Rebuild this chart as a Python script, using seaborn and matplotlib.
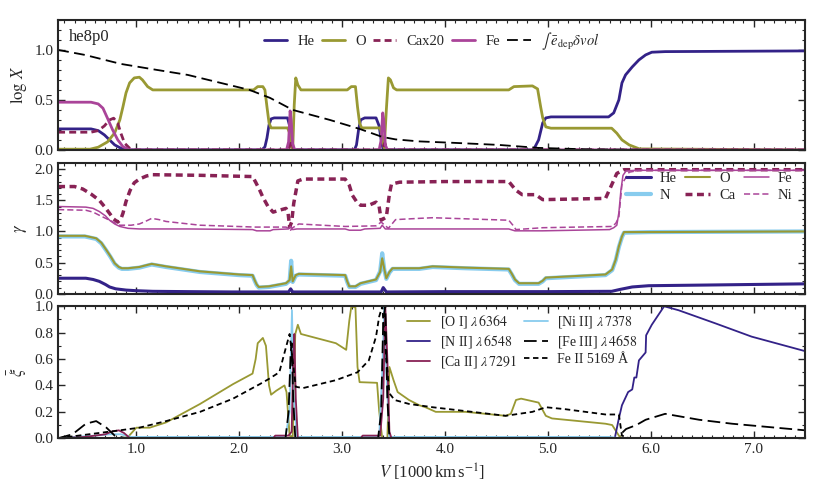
import matplotlib
matplotlib.use('Agg')
import matplotlib.pyplot as plt
from matplotlib.ticker import MultipleLocator, FormatStrFormatter
import seaborn as sns

# colours (Tol muted)
c_he = '#332288'
c_o = '#999933'
c_ca = '#882255'
c_fe = '#AA4499'
c_n = '#88CCEE'

# ---------------- top panel: log X ----------------
he_top_x = [0.24, 0.56, 0.63, 0.69, 0.74, 0.79, 0.85, 0.90, 2.22, 2.25, 2.27, 2.29, 2.31, 2.34, 2.47, 2.49, 2.50, 2.52,
            3.12, 3.14, 3.16, 3.18, 3.22, 3.33, 3.36, 3.38, 3.40, 4.86, 4.91, 4.95, 4.98, 5.03, 5.59, 5.64, 5.69, 5.72,
            5.755, 5.82, 5.885, 5.95, 6.01, 6.14, 7.50]
he_top_y = [0.21, 0.21, 0.193, 0.15, 0.10, 0.05, 0.017, 0.0, 0.0, 0.03, 0.12, 0.25, 0.31, 0.32, 0.32, 0.24, 0.10, 0.0,
            0.0, 0.05, 0.20, 0.30, 0.32, 0.32, 0.24, 0.10, 0.0, 0.0, 0.10, 0.27, 0.32, 0.33, 0.33, 0.37, 0.50, 0.67,
            0.75, 0.83, 0.90, 0.95, 0.977, 0.983, 0.99]

o_top_x = [0.24, 0.55, 0.63, 0.72, 0.79, 0.84, 0.87, 0.90, 0.935, 0.98, 1.03, 1.06, 1.11, 1.16, 2.14, 2.18, 2.23, 2.25,
           2.27, 2.29, 2.31, 2.47, 2.49, 2.51, 2.52, 2.535, 2.55, 2.57, 2.60, 3.05, 3.09, 3.13, 3.15, 3.17, 3.19,
           3.37, 3.39, 3.41, 3.43, 3.45, 3.47, 3.50, 3.53, 4.62, 4.67, 4.85, 4.90, 4.93, 4.95, 4.98, 5.03, 5.62,
           5.67, 5.72, 5.79, 5.89, 7.50]
o_top_y = [0.007, 0.007, 0.027, 0.08, 0.17, 0.30, 0.43, 0.57, 0.67, 0.72, 0.727, 0.70, 0.633, 0.60, 0.60, 0.633, 0.633,
           0.60, 0.43, 0.27, 0.22, 0.22, 0.17, 0.03, 0.0, 0.45, 0.72, 0.65, 0.60, 0.60, 0.633, 0.633, 0.43, 0.27, 0.22,
           0.22, 0.13, 0.02, 0.40, 0.72, 0.70, 0.62, 0.60, 0.60, 0.633, 0.64, 0.61, 0.43, 0.32, 0.23, 0.217, 0.217,
           0.167, 0.10, 0.05, 0.01, 0.0]

cax20_x = [0.24, 0.56, 0.63, 0.69, 0.74, 0.78, 0.82, 0.85, 0.886, 0.935, 0.98, 2.48, 2.505, 2.53, 3.39, 3.415, 3.44, 7.50]
cax20_y = [0.177, 0.177, 0.193, 0.24, 0.30, 0.317, 0.267, 0.167, 0.067, 0.017, 0.0, 0.0, 0.10, 0.0, 0.0, 0.07, 0.0, 0.0]

fe_top_x = [0.24, 0.56, 0.63, 0.676, 0.72, 0.77, 0.82, 0.87, 0.935, 2.46, 2.48, 2.495, 2.505, 2.52, 2.54,
            3.36, 3.38, 3.395, 3.405, 3.42, 3.44, 7.50]
fe_top_y = [0.477, 0.477, 0.46, 0.417, 0.317, 0.20, 0.10, 0.033, 0.0, 0.0, 0.08, 0.39, 0.30, 0.06, 0.0,
            0.0, 0.10, 0.37, 0.30, 0.05, 0.0, 0.0]

edep_x = [0.24, 0.50, 0.85, 1.20, 1.50, 1.90, 2.10, 2.30, 2.52, 2.70, 2.88, 3.17, 3.39, 3.52, 3.75, 4.10, 4.52, 4.91,
          5.40, 6.00, 7.50]
edep_y = [1.00, 0.95, 0.86, 0.80, 0.75, 0.65, 0.60, 0.52, 0.40, 0.35, 0.30, 0.21, 0.13, 0.105, 0.085, 0.07, 0.05, 0.02,
          0.005, 0.0, 0.0]

# ---------------- middle panel: gamma ----------------
he_mid_x = [0.24, 0.51, 0.58, 0.64, 0.70, 0.74, 0.80, 0.90, 1.00, 1.16, 1.50, 1.93, 2.48, 2.50, 2.52, 3.38, 3.40,
            3.43, 4.00, 5.00, 5.62, 5.70, 5.82, 5.98, 6.50, 7.00, 7.50]
he_mid_y = [0.25, 0.25, 0.23, 0.20, 0.15, 0.11, 0.08, 0.06, 0.05, 0.04, 0.035, 0.03, 0.03, 0.08, 0.03, 0.03, 0.10,
            0.03, 0.035, 0.035, 0.04, 0.07, 0.11, 0.13, 0.14, 0.15, 0.16]

o_mid_x = [0.24, 0.50, 0.61, 0.66, 0.71, 0.75, 0.79, 0.83, 0.86, 0.92, 1.03, 1.10, 1.15, 1.22, 1.29, 1.62, 2.00, 2.13,
           2.15, 2.17, 2.19, 2.29, 2.455, 2.49, 2.505, 2.52, 2.55, 2.58, 3.03, 3.05, 3.07, 3.13, 3.18, 3.33, 3.37, 3.39,
           3.41, 3.43, 3.46, 3.49, 3.75, 3.88, 4.20, 4.62, 4.65, 4.68, 4.72, 4.91, 4.95, 4.98, 5.56, 5.625, 5.66, 5.69,
           5.72, 5.74, 6.00, 7.50]
o_mid_y = [0.93, 0.93, 0.89, 0.82, 0.70, 0.60, 0.49, 0.43, 0.41, 0.41, 0.43, 0.46, 0.48, 0.46, 0.44, 0.36, 0.31, 0.30,
           0.22, 0.15, 0.11, 0.12, 0.17, 0.22, 0.44, 0.20, 0.30, 0.32, 0.30, 0.20, 0.12, 0.12, 0.17, 0.23, 0.35, 0.57,
           0.40, 0.25, 0.35, 0.41, 0.41, 0.44, 0.42, 0.40, 0.32, 0.23, 0.17, 0.17, 0.21, 0.26, 0.31, 0.39, 0.55, 0.76,
           0.92, 0.99, 0.99, 1.00]
n_mid_y = [0.92, 0.92, 0.88, 0.81, 0.69, 0.59, 0.48, 0.42, 0.40, 0.40, 0.42, 0.45, 0.47, 0.45, 0.43, 0.35, 0.30, 0.29,
           0.21, 0.14, 0.10, 0.11, 0.16, 0.21, 0.53, 0.19, 0.29, 0.31, 0.29, 0.19, 0.11, 0.11, 0.16, 0.22, 0.36, 0.65,
           0.39, 0.24, 0.34, 0.40, 0.40, 0.43, 0.41, 0.39, 0.31, 0.22, 0.16, 0.16, 0.20, 0.25, 0.30, 0.38, 0.54, 0.75,
           0.91, 0.98, 0.99, 1.00]

ca_mid_x = [0.24, 0.40, 0.48, 0.56, 0.64, 0.69, 0.74, 0.78, 0.82, 0.85, 0.87, 0.90, 0.94, 0.98, 1.03, 1.10, 1.16, 1.62,
            2.13, 2.16, 2.20, 2.23, 2.28, 2.33, 2.39, 2.455, 2.475, 2.49, 2.51, 2.53, 2.57, 2.62, 3.03, 3.07, 3.10,
            3.14, 3.18, 3.26, 3.33, 3.36, 3.38, 3.43, 3.46, 3.48, 3.56, 4.00, 4.62, 4.66, 4.69, 4.75, 4.88, 4.95,
            5.56, 5.61, 5.67, 5.74, 7.50]
ca_mid_y = [1.72, 1.72, 1.68, 1.60, 1.50, 1.40, 1.29, 1.20, 1.15, 1.20, 1.29, 1.48, 1.66, 1.78, 1.84, 1.89, 1.91, 1.90,
            1.88, 1.79, 1.66, 1.55, 1.40, 1.31, 1.34, 1.37, 1.30, 1.07, 1.15, 1.45, 1.81, 1.84, 1.84, 1.74, 1.58,
            1.48, 1.42, 1.42, 1.47, 1.40, 1.18, 1.23, 1.60, 1.76, 1.79, 1.80, 1.80, 1.72, 1.66, 1.59, 1.59, 1.51,
            1.53, 1.71, 1.93, 1.99, 1.99]

fe_mid_x = [0.24, 0.51, 0.58, 0.64, 0.70, 0.74, 0.79, 0.84, 0.92, 1.03, 1.50, 2.13, 2.17, 2.30, 2.33, 2.48, 2.50, 2.52,
            2.56, 3.03, 3.07, 3.18, 3.22, 3.37, 3.39, 3.42, 3.46, 4.62, 4.68, 4.95, 5.60, 5.64, 5.67, 5.69, 5.71, 5.73,
            5.76, 5.85, 7.50]
fe_mid_y = [1.40, 1.39, 1.37, 1.32, 1.25, 1.18, 1.12, 1.08, 1.05, 1.04, 1.04, 1.03, 1.01, 1.01, 1.03, 1.04, 1.08, 1.03,
            1.04, 1.04, 1.02, 1.02, 1.04, 1.05, 1.10, 1.04, 1.04, 1.04, 1.01, 1.01, 1.03, 1.06, 1.10, 1.30, 1.66, 1.90,
            1.97, 1.98, 1.98]

ni_mid_x = [0.24, 0.51, 0.58, 0.64, 0.74, 0.84, 0.95, 1.03, 1.10, 1.15, 1.22, 1.29, 1.62, 2.16, 2.455, 2.49, 2.50, 2.52,
            2.58, 3.03, 3.33, 3.38, 3.45, 3.52, 3.75, 3.88, 4.62, 4.66, 4.69, 4.95, 5.625, 5.66, 5.69, 5.72, 5.79,
            5.885, 7.50]
ni_mid_y = [1.35, 1.34, 1.31, 1.26, 1.18, 1.10, 1.10, 1.12, 1.17, 1.21, 1.19, 1.16, 1.10, 1.07, 1.07, 1.04, 1.02, 1.06,
            1.12, 1.08, 1.09, 1.15, 1.05, 1.19, 1.21, 1.22, 1.18, 1.10, 1.03, 1.06, 1.08, 1.13, 1.23, 1.76, 1.95,
            1.98, 1.98]

# ---------------- bottom panel: xi ----------------
oi_x = [0.24, 0.85, 0.92, 1.00, 1.13, 1.29, 1.62, 1.94, 2.13, 2.16, 2.18, 2.23, 2.26, 2.29, 2.31, 2.36, 2.44, 2.46, 2.49,
        2.52, 2.545, 2.57, 2.60, 2.94, 3.04, 3.07, 3.09, 3.13, 3.15, 3.17, 3.34, 3.36, 3.39, 3.44, 3.46, 3.50, 3.54, 3.65,
        3.75, 3.81, 3.91, 4.20, 4.59, 4.64, 4.69, 4.74, 4.91, 4.98, 5.04, 5.56, 5.625, 5.69, 5.72, 7.50]
oi_y = [0.0, 0.0, 0.01, 0.08, 0.08, 0.12, 0.26, 0.41, 0.49, 0.60, 0.72, 0.76, 0.70, 0.40, 0.33, 0.36, 0.40, 0.35, 0.02,
        0.0, 0.79, 0.86, 0.79, 0.72, 0.67, 0.89, 1.0, 0.99, 0.54, 0.425, 0.42, 0.21, 0.0, 0.0, 0.54, 0.44, 0.35, 0.29,
        0.25, 0.235, 0.20, 0.20, 0.17, 0.185, 0.29, 0.30, 0.27, 0.17, 0.15, 0.11, 0.10, 0.02, 0.0, 0.0]

nii_x = [0.24, 5.65, 5.69, 5.72, 5.78, 5.82, 5.84, 5.86, 5.885, 5.95, 5.955, 6.01, 6.13, 6.27, 6.63, 6.98, 7.50]
nii_y = [0.0, 0.0, 0.15, 0.25, 0.35, 0.37, 0.46, 0.46, 0.59, 0.65, 0.78, 0.86, 1.0, 0.97, 0.87, 0.77, 0.66]

caii_x = [0.24, 0.50, 0.70, 0.76, 0.83, 0.88, 0.94, 2.33, 2.35, 2.48, 2.51, 2.525, 2.536, 2.55, 2.57, 3.18, 3.20, 3.37,
          3.40, 3.42, 3.44, 3.46, 3.48, 7.50]
caii_y = [0.0, 0.01, 0.03, 0.05, 0.06, 0.04, 0.0, 0.0, 0.02, 0.02, 0.05, 0.60, 0.79, 0.30, 0.0, 0.0, 0.02, 0.02,
          0.30, 1.0, 0.60, 0.05, 0.0, 0.0]

niii_x = [0.24, 0.40, 0.60, 0.75, 0.85, 0.95, 1.50, 2.45, 2.49, 2.513, 2.53, 2.56, 3.00, 3.36, 3.39, 3.41, 3.43, 3.46,
          4.50, 5.60, 5.70, 7.50]
niii_y = [0.0, 0.01, 0.02, 0.03, 0.03, 0.01, 0.01, 0.01, 0.20, 0.97, 0.30, 0.01, 0.01, 0.01, 0.50, 1.0, 0.50, 0.01,
          0.01, 0.01, 0.0, 0.0]

feiii_x = [0.24, 0.38, 0.51, 0.61, 0.71, 0.79, 0.90, 2.45, 2.48, 2.50, 2.51, 2.525, 2.545, 3.35, 3.38, 3.40, 3.42, 3.44,
           3.46, 5.69, 5.72, 5.76, 5.86, 5.95, 6.14, 6.47, 6.79, 7.50]
feiii_y = [0.0, 0.03, 0.11, 0.13, 0.08, 0.02, 0.0, 0.0, 0.20, 0.65, 0.72, 0.30, 0.0, 0.0, 0.20, 0.90, 1.0, 0.30,
           0.0, 0.0, 0.04, 0.07, 0.10, 0.14, 0.185, 0.14, 0.11, 0.06]

feii_x = [0.24, 0.64, 0.84, 1.03, 1.29, 1.62, 1.94, 2.20, 2.29, 2.39, 2.455, 2.49, 2.55, 2.62, 2.94, 3.15, 3.26, 3.33,
          3.36, 3.39, 3.43, 3.46, 3.51, 3.65, 3.88, 4.59, 4.85, 4.98, 5.17, 5.56, 5.69, 5.72, 5.79, 7.50]
feii_y = [0.0, 0.04, 0.06, 0.08, 0.13, 0.20, 0.30, 0.41, 0.45, 0.50, 0.69, 0.79, 0.39, 0.38, 0.44, 0.50, 0.59, 0.77,
          0.92, 1.0, 0.60, 0.34, 0.29, 0.26, 0.235, 0.17, 0.20, 0.235, 0.22, 0.18, 0.18, 0.02, 0.0, 0.0]

sns.set_style('ticks')
plt.rcParams['font.family'] = ['Liberation Serif', 'DejaVu Serif']
plt.rcParams['mathtext.fontset'] = 'stix'
plt.rcParams['xtick.direction'] = 'in'
plt.rcParams['ytick.direction'] = 'in'

fig = plt.figure(figsize=(8.3, 4.98), dpi=100)
ax1 = fig.add_axes([0.070, 0.699, 0.900, 0.261])
ax2 = fig.add_axes([0.070, 0.410, 0.900, 0.263])
ax3 = fig.add_axes([0.070, 0.120, 0.900, 0.265])


def line(ax, x, y, color, lw, ls='-', label=None):
    sns.lineplot(x=x, y=y, ax=ax, color=color, lw=lw, linestyle=ls, estimator=None, sort=False, legend=False)
    h = ax.lines[-1]
    h.set_label(label)
    return h


# top panel
h1 = line(ax1, he_top_x, he_top_y, c_he, 2.0, label='He')
h2 = line(ax1, o_top_x, o_top_y, c_o, 2.0, label='O')
h3 = line(ax1, cax20_x, cax20_y, c_ca, 2.0, (0, (2.5, 1.5)), label='Cax20')
h4 = line(ax1, fe_top_x, fe_top_y, c_fe, 2.0, label='Fe')
h5 = line(ax1, edep_x, edep_y, 'black', 1.3, (0, (6, 3)), label=r'$\int\;\bar{e}_{\rm dep}\delta vol$')
ax1.legend(handles=[h1, h2, h3, h4, h5], loc='upper center', ncol=5, frameon=False, fontsize=10.5,
           handlelength=1.6, columnspacing=0.5, handletextpad=0.7, bbox_to_anchor=(0.5, 1.02))
ax1.text(0.015, 0.93, 'he8p0', transform=ax1.transAxes, fontsize=12, va='top')
ax1.set_ylim(0, 1.3)
ax1.set_ylabel(r'$\log\,X$', fontsize=12)
ax1.yaxis.set_major_locator(MultipleLocator(0.5))
ax1.yaxis.set_minor_locator(MultipleLocator(0.1))

# middle panel
g_n = line(ax2, o_mid_x, n_mid_y, c_n, 3.0, label='N')
g_he = line(ax2, he_mid_x, he_mid_y, c_he, 2.2, label='He')
g_o = line(ax2, o_mid_x, o_mid_y, c_o, 1.5, label='O')
g_ca = line(ax2, ca_mid_x, ca_mid_y, c_ca, 2.5, (0, (2, 1.3)), label='Ca')
g_fe = line(ax2, fe_mid_x, fe_mid_y, c_fe, 1.1, label='Fe')
g_ni = line(ax2, ni_mid_x, ni_mid_y, c_fe, 1.1, (0, (4, 2)), label='Ni')
ax2.legend(handles=[g_he, g_n, g_o, g_ca, g_fe, g_ni], loc='upper right', ncol=3, frameon=False, fontsize=10.5,
           handlelength=1.7, columnspacing=0.6, handletextpad=0.6, labelspacing=0.25,
           bbox_to_anchor=(1.0, 1.03))
ax2.set_ylim(0, 2.1)
ax2.set_ylabel(r'$\gamma$', fontsize=12)
ax2.yaxis.set_major_locator(MultipleLocator(0.5))
ax2.yaxis.set_minor_locator(MultipleLocator(0.1))

# bottom panel
b1 = line(ax3, oi_x, oi_y, c_o, 1.3, label=r'[O I] $\lambda\,6364$')
b2 = line(ax3, nii_x, nii_y, c_he, 1.3, label=r'[N II] $\lambda\,6548$')
b4 = line(ax3, niii_x, niii_y, c_n, 1.3, label=r'[Ni II] $\lambda\,7378$')
b3 = line(ax3, caii_x, caii_y, c_ca, 1.3, label=r'[Ca II] $\lambda\,7291$')
b5 = line(ax3, feiii_x, feiii_y, 'black', 1.3, (0, (7, 3)), label=r'[Fe III] $\lambda\,4658$')
b6 = line(ax3, feii_x, feii_y, 'black', 1.3, (0, (3, 2)), label='Fe II 5169 Å')
ax3.legend(handles=[b1, b2, b3, b4, b5, b6], loc='upper left', bbox_to_anchor=(0.45, 1.04), ncol=2,
           frameon=False, fontsize=10, handlelength=1.7, columnspacing=0.5, handletextpad=0.7, labelspacing=0.2)
ax3.set_ylim(0, 1.0)
ax3.set_ylabel(r'$\bar{\xi}$', fontsize=12)
ax3.set_xlabel(r'$V$ [1000$\,$km$\,$s$^{-1}$]', fontsize=12)
ax3.yaxis.set_major_locator(MultipleLocator(0.2))
ax3.yaxis.set_minor_locator(MultipleLocator(0.1))

for ax in (ax1, ax2, ax3):
    ax.set_xlim(0.24, 7.5)
    ax.xaxis.set_major_locator(MultipleLocator(1.0))
    ax.xaxis.set_minor_locator(MultipleLocator(0.1))
    ax.yaxis.set_major_formatter(FormatStrFormatter('%.1f'))
    ax.tick_params(which='both', top=True, right=True, labelsize=11)
    ax.tick_params(which='major', length=5, width=1)
    ax.tick_params(which='minor', length=2.5, width=0.8)
    for s in ax.spines.values():
        s.set_visible(True)
        s.set_linewidth(1.5)
for ax in (ax1, ax2):
    ax.tick_params(labelbottom=False)
ax3.xaxis.set_major_formatter(FormatStrFormatter('%.1f'))

fig.savefig('out.png', dpi=100)
